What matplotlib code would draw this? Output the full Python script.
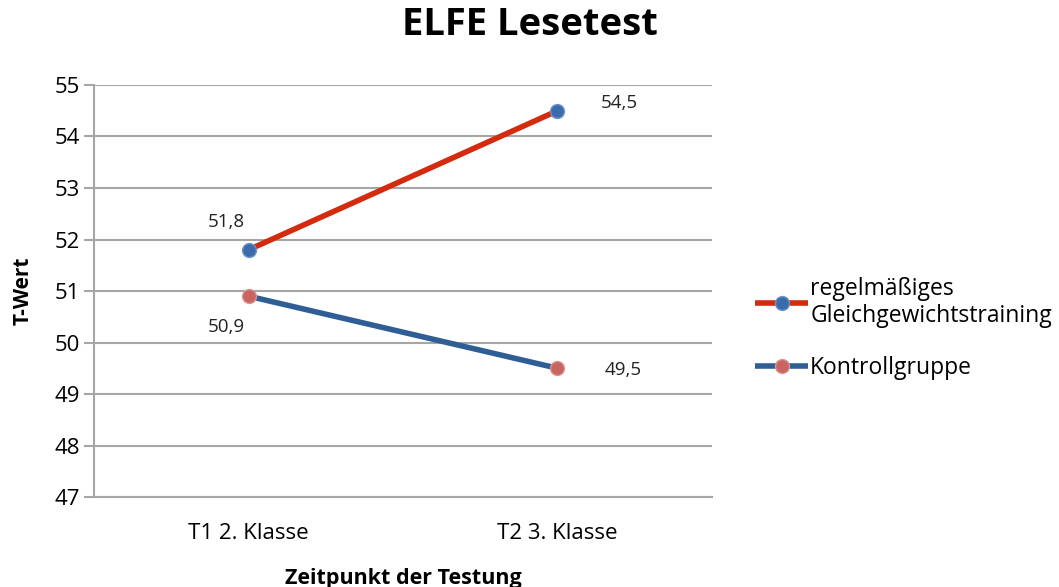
import matplotlib.pyplot as plt

# --- Daten ---
zeitpunkte = ["T1 2. Klasse", "T2 3. Klasse"]
training = [51.8, 54.5]
kontrolle = [50.9, 49.5]
label_training = "regelmäßiges\nGleichgewichtstraining"
label_kontrolle = "Kontrollgruppe"

plt.rcParams['font.family'] = ['Open Sans', 'DejaVu Sans']

fig = plt.figure(figsize=(10.59, 5.87), dpi=100)
ax = fig.add_axes([0.0888, 0.1533, 0.5835, 0.7019])

x = list(range(len(zeitpunkte)))
ax.plot(x, training, color='#d42a0e', linewidth=4, marker='o', markersize=10,
        markerfacecolor='#3a6cad', markeredgecolor='#6f94c4', markeredgewidth=1,
        label=label_training, solid_capstyle='butt', zorder=3)
ax.plot(x, kontrolle, color='#2f5e96', linewidth=4, marker='o', markersize=10,
        markerfacecolor='#c96461', markeredgecolor='#d89592', markeredgewidth=1,
        label=label_kontrolle, solid_capstyle='butt', zorder=3)

# Werte-Beschriftungen (px-Versatz -> Punkte)
offsets_t = [(-22, 28), (62, 8)]
offsets_k = [(-22, -31), (66, -2)]
for xi, v, off in zip(x, training, offsets_t):
    ax.annotate(f"{v:.1f}".replace('.', ','), (xi, v), xytext=(off[0]*0.72, off[1]*0.72),
                textcoords='offset points', ha='center', va='center', fontsize=13.5, color='#222222')
for xi, v, off in zip(x, kontrolle, offsets_k):
    ax.annotate(f"{v:.1f}".replace('.', ','), (xi, v), xytext=(off[0]*0.72, off[1]*0.72),
                textcoords='offset points', ha='center', va='center', fontsize=13.5, color='#222222')

ax.set_xlim(-0.5, 1.5)
ax.set_ylim(47, 55)
ax.set_yticks(range(47, 56))
ax.set_xticks(x)
ax.set_xticklabels(zeitpunkte)
ax.tick_params(axis='y', length=7, width=1.5, color='#a6a6a6', labelsize=16, pad=3)
ax.tick_params(axis='x', length=0, labelsize=16, pad=19)
ax.grid(True, axis='y', color='#a6a6a6', linewidth=1.5)
ax.set_axisbelow(True)
for s in ['top', 'right']:
    ax.spines[s].set_visible(False)
ax.spines['left'].set_color('#a6a6a6')
ax.spines['left'].set_linewidth(1.5)
ax.spines['bottom'].set_color('#a6a6a6')
ax.spines['bottom'].set_linewidth(1.5)

ax.set_ylabel("T-Wert", fontsize=15, fontweight='bold', labelpad=15)
ax.set_xlabel("Zeitpunkt der Testung", fontsize=15.5, fontweight='bold', labelpad=17)
fig.suptitle("ELFE Lesetest", fontsize=27.5, fontweight='bold', x=0.5, y=0.99)

ax.legend(loc='center left', bbox_to_anchor=(1.07, 0.41), frameon=False, fontsize=16.5,
          handlelength=2.3, handletextpad=0.1, labelspacing=1.2, borderaxespad=0, borderpad=0)

fig.savefig('out.png', dpi=100)
